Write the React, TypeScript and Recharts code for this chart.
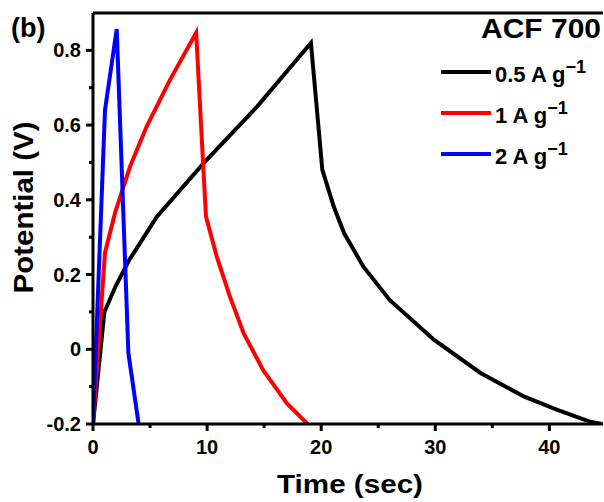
import { Legend, Line, LineChart, ReferenceLine, XAxis, YAxis } from 'recharts';

// 0.5 A g-1
const blackTime = [0, 1, 2, 3.2, 5.6, 9.7, 14.4, 19.1, 20.1, 21.1, 22.0, 23.7, 26.0, 29.9, 34.0, 37.8, 40.7, 43.6, 44.6];
const blackPotential = [-0.2, 0.1, 0.17, 0.24, 0.355, 0.498, 0.65, 0.82, 0.48, 0.382, 0.311, 0.221, 0.132, 0.025, -0.064, -0.127, -0.162, -0.194, -0.2];

// 1 A g-1
const redTime = [0, 1.05, 1.93, 3.25, 4.7, 6.75, 9.04, 9.9, 10.85, 12.0, 13.2, 14.9, 17.0, 18.8];
const redPotential = [-0.2, 0.258, 0.365, 0.489, 0.596, 0.721, 0.847, 0.355, 0.248, 0.141, 0.043, -0.055, -0.145, -0.2];

// 2 A g-1
const blueTime = [0, 1.05, 2.08, 3.1, 4.0];
const bluePotential = [-0.2, 0.64, 0.857, -0.01, -0.2];

const xMajorTicks = [0, 10, 20, 30, 40];
const xMinorTicks = [5, 15, 25, 35];
const yMajorTicks = [-0.2, 0, 0.2, 0.4, 0.6, 0.8];
const yMinorTicks = [-0.1, 0.1, 0.3, 0.5, 0.7];

const series = [
  { name: '0.5', label: '0.5 A g', color: '#000000', time: blackTime, potential: blackPotential },
  { name: '1', label: '1 A g', color: '#ff0000', time: redTime, potential: redPotential },
  { name: '2', label: '2 A g', color: '#0000ff', time: blueTime, potential: bluePotential },
];

const toRows = (t: number[], v: number[]) => t.map((x, i) => ({ t: x, v: v[i] }));

const font = '"Liberation Sans", Arial, sans-serif';

function XTick(props: any) {
  const { x, y, payload } = props;
  const major = xMajorTicks.includes(payload.value);
  return (
    <g>
      <line x1={x} x2={x} y1={y} y2={y + (major ? 7 : 4)} stroke="#000" strokeWidth={3} />
      {major && (
        <text x={x} y={y + 30} textAnchor="middle" fontSize={20} fontWeight="bold" fontFamily={font} fill="#000">
          {payload.value}
        </text>
      )}
    </g>
  );
}

function YTick(props: any) {
  const { x, y, payload } = props;
  const major = yMajorTicks.some((m) => Math.abs(m - payload.value) < 1e-6);
  return (
    <g>
      <line x1={x} x2={x - (major ? 7 : 4)} y1={y} y2={y} stroke="#000" strokeWidth={3} />
      {major && (
        <text x={x - 12} y={y + 7} textAnchor="end" fontSize={20} fontWeight="bold" fontFamily={font} fill="#000">
          {payload.value}
        </text>
      )}
    </g>
  );
}

function LegendBox() {
  return (
    <svg width={604} height={180} style={{ position: 'absolute', left: 0, top: 0, overflow: 'visible' }}>
      <text x={601} y={38} textAnchor="end" fontSize={27} fontWeight="bold" fontFamily={font} textLength={120} lengthAdjust="spacingAndGlyphs">
        ACF 700
      </text>
      {series.map((s, i) => {
        const cy = 72 + i * 41;
        return (
          <g key={s.name}>
            <line x1={441} x2={491} y1={cy} y2={cy} stroke={s.color} strokeWidth={4} />
            <text x={495} y={cy + 10} fontSize={22} fontWeight="bold" fontFamily={font} fill="#000">
              {s.label}
              <tspan dy={-9} fontSize={18}>{'\u22121'}</tspan>
            </text>
          </g>
        );
      })}
    </svg>
  );
}

export default function App() {
  return (
    <div style={{ position: 'absolute', left: 0, top: 0, width: 604, height: 502, background: '#fff' }}>
      <LineChart width={604} height={502} margin={{ top: 13, right: 1, bottom: 0, left: 0 }}>
        <XAxis
          type="number"
          dataKey="t"
          domain={[0, 44.7]}
          ticks={[...xMajorTicks, ...xMinorTicks].sort((a, b) => a - b)}
          allowDataOverflow
          height={78}
          tickSize={0}
          tickMargin={0}
          tickLine={false}
          axisLine={{ stroke: '#000', strokeWidth: 3 }}
          tick={<XTick />}
          interval={0}
          label={{
            content: ({ viewBox }: any) => (
              <text
                x={viewBox.x + viewBox.width / 2 + 2}
                y={viewBox.y + 69}
                textAnchor="middle"
                fontSize={25}
                fontWeight="bold"
                fontFamily={font}
                textLength={146}
                lengthAdjust="spacingAndGlyphs"
              >
                Time (sec)
              </text>
            ),
          }}
        />
        <YAxis
          type="number"
          domain={[-0.2, 0.9]}
          ticks={[...yMajorTicks, ...yMinorTicks].sort((a, b) => a - b)}
          allowDataOverflow
          width={93}
          tickSize={0}
          tickMargin={0}
          tickLine={false}
          axisLine={{ stroke: '#000', strokeWidth: 3 }}
          tick={<YTick />}
          interval={0}
          label={{
            content: ({ viewBox }: any) => {
              const cx = viewBox.x + 33;
              const cy = viewBox.y + viewBox.height / 2 - 11;
              return (
                <text
                  x={cx}
                  y={cy}
                  transform={`rotate(-90 ${cx} ${cy})`}
                  textAnchor="middle"
                  fontSize={28}
                  fontWeight="bold"
                  fontFamily={font}
                  textLength={172}
                  lengthAdjust="spacingAndGlyphs"
                >
                  Potential (V)
                </text>
              );
            },
          }}
        />
        <ReferenceLine y={0.9} stroke="#000" strokeWidth={3} ifOverflow="visible" />
        {series.map((s) => (
          <Line
            key={s.name}
            name={s.label}
            data={toRows(s.time, s.potential)}
            dataKey="v"
            type="linear"
            stroke={s.color}
            strokeWidth={4}
            dot={false}
            isAnimationActive={false}
          />
        ))}
        <Legend
          content={() => <LegendBox />}
          wrapperStyle={{ position: 'absolute', left: 0, top: 0, width: 0, height: 0, overflow: 'visible' }}
        />
      </LineChart>
      <div
        style={{
          position: 'absolute',
          left: 11,
          top: 12,
          fontFamily: font,
          fontWeight: 'bold',
          fontSize: 27,
          lineHeight: '32px',
        }}
      >
        (b)
      </div>
    </div>
  );
}
